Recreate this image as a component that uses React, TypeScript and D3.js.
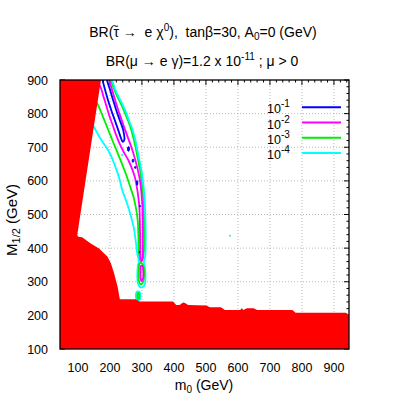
import React from "react";
import * as d3 from "d3";

type P = [number, number];
type B = [number, number, number, number];

const xTickValues = [100, 200, 300, 400, 500, 600, 700, 800, 900];
const yTickValues = [100, 200, 300, 400, 500, 600, 700, 800, 900];
const legendExponents = ["-1", "-2", "-3", "-4"];
const legendColors = ["#0000ff", "#ff00ff", "#00ee00", "#00ffff"];

const excluded: P[] = [[30,910],[173.6,910],[98,440],[100,434],[113,432],[140,414],[166,399],[192,375],[203,355],[213,325],[224,285],[231,248],[281,248],[292,241],[397,241],[407,231],[418,231],[425,236],[430,238],[436,236],[444,231],[502,229],[512,224],[547,224],[559,216],[607,216],[612,221],[617,216],[628,221],[649,221],[660,216],[770,216],[780,208],[937,208],[948,201],[960,201],[960,90],[30,90]];

const blueBand: P[] = [[176,905],[177,900],[185,870],[194,840],[204,811],[215,781],[226,751],[235,726],[240,716],[245,722],[241.5,751],[230.5,781],[219.5,811],[210,840],[200.6,870],[191,900],[192,905]];
const blueBlobs: B[] = [[258,695,3,7],[272,660,2.5,5],[279,640,2,3],[285,594,2,7],[293.5,525,1.8,2.5],[292,388,1.5,1.5]];

const magentaUpper: P[] = [[168,885],[172,876],[178.5,855],[188,826],[197.4,796],[208.5,766],[219.5,736],[232,707],[244.7,683],[257.3,662],[268.3,638],[277.7,611.5],[284,582],[288.7,552],[292,522],[293.5,484],[294.4,424],[295,380],[296.6,365],[299.8,362],[302.3,371],[302.9,424],[302.9,484],[301.3,528],[298.2,567],[293.5,603],[287.2,632],[279.3,662],[270,692],[258.8,722],[247.8,751],[236.8,781],[225.8,811],[216.3,840.5],[206.9,870],[197.4,900],[195.8,905]];
const magentaLower: P[] = [[296.6,347],[295.7,335],[295.7,311],[298.2,302],[302.9,308],[303.8,335],[301.3,347]];

const greenUpper: P[] = [[158,833],[161.2,828.6],[172.2,804.8],[184.8,775],[197.4,745.4],[210,715.6],[222.6,686],[236.8,653],[251,617.5],[263.6,582],[274.6,549],[282.5,513],[287.2,478],[289.4,424],[290.3,380],[292,365],[296.6,360],[301.3,365],[306.7,394],[307.5,439],[306.8,484],[305.2,528],[302.4,567],[298.5,603],[292.9,638],[285.5,674],[278.4,707],[271.3,736],[261.6,766],[249.3,796],[235.9,826],[220.9,855],[209.2,882],[203,900],[201.5,905]];
const greenLower: P[] = [[296.6,356],[292,353],[290.3,335],[290.3,305],[295,293],[301.3,295],[306,311],[306,341],[301.3,353]];
const greenBlobs: B[] = [[288.7,257.6,3.1,8.9]];

const cyanOutline: P[] = [[147,765],[150.2,760],[169.1,727.5],[188,700.7],[203.7,674],[216.3,644],[229,608.5],[238.4,573],[251,540],[263.6,501.5],[274.6,460],[281,418],[285.6,382.5],[290.3,361.7],[287.2,347],[285.6,320],[287.2,296],[293.5,284.4],[303,284.4],[309.2,293],[310.8,320],[309.2,344],[306.1,358.7],[310.2,376.6],[311.7,424],[310.8,484],[308.6,543],[304.5,588],[299.8,623],[292.8,659],[285.6,692],[278.7,724.5],[270,754],[260.4,778],[251,802],[241.5,823],[229,846.5],[216.3,873],[207,900],[205,906]];
const cyanBlobs: B[] = [[288.1,257.6,7.2,13.4],[575,437,2,2],[238.4,677,2,2.5]];

const FONT = "'Liberation Sans', Arial, Helvetica, sans-serif";

export default function App() {
  const L = 60, R = 349, T = 80, Bt = 349;
  const x = d3.scaleLinear().domain([44, 947]).range([L, R]);
  const y = d3.scaleLinear().domain([100, 900]).range([Bt, T]);
  const openLine = d3.line<P>().x(d => x(d[0])).y(d => y(d[1])).curve(d3.curveCatmullRom.alpha(0.5));
  const closedLine = d3.line<P>().x(d => x(d[0])).y(d => y(d[1])).curve(d3.curveCatmullRomClosed.alpha(0.5));
  const poly = d3.line<P>().x(d => x(d[0])).y(d => y(d[1])).curve(d3.curveLinearClosed);

  const xMinor = d3.range(60, 947, 20).filter(v => v % 100 !== 0);
  const yMinor = d3.range(120, 900, 20).filter(v => v % 100 !== 0);

  const sw = 1.8;
  const blob = (b: B, c: string, i: number, filled: boolean) => (
    <ellipse key={c + i} cx={x(b[0])} cy={y(b[1])} rx={x(b[0] + b[2]) - x(b[0])} ry={y(b[1]) - y(b[1] + b[3])}
      fill={filled ? c : "none"} stroke={c} strokeWidth={filled ? 1 : sw} />
  );

  return (
    <svg width={399} height={399} style={{ position: "absolute", left: 0, top: 0, background: "#fff" }} fontFamily={FONT}>
      <defs>
        <clipPath id="plotclip"><rect x={L} y={T} width={R - L} height={Bt - T} /></clipPath>
      </defs>
      <rect x={0} y={0} width={399} height={399} fill="#fff" />
      <g stroke="#a8a8a8" strokeWidth={0.8} strokeDasharray="1,2">
        {xTickValues.map(v => <line key={"gx" + v} x1={x(v)} x2={x(v)} y1={T} y2={Bt} />)}
        {yTickValues.filter(v => v > 100 && v < 900).map(v => <line key={"gy" + v} x1={L} x2={R} y1={y(v)} y2={y(v)} />)}
      </g>
      <g stroke="#000" strokeWidth={1}>
        {xTickValues.map(v => <line key={"tt" + v} x1={x(v)} x2={x(v)} y1={T} y2={T + 5} />)}
        {xTickValues.map(v => <line key={"tb" + v} x1={x(v)} x2={x(v)} y1={Bt} y2={Bt - 5} />)}
        {xMinor.map(v => <line key={"mt" + v} x1={x(v)} x2={x(v)} y1={T} y2={T + 2.5} />)}
        {xMinor.map(v => <line key={"mb" + v} x1={x(v)} x2={x(v)} y1={Bt} y2={Bt - 2.5} />)}
        {yTickValues.map(v => <line key={"tr" + v} x1={R} x2={R - 5} y1={y(v)} y2={y(v)} />)}
        {yTickValues.map(v => <line key={"tl" + v} x1={L} x2={L + 5} y1={y(v)} y2={y(v)} />)}
        {yMinor.map(v => <line key={"mr" + v} x1={R} x2={R - 2.5} y1={y(v)} y2={y(v)} />)}
        {yMinor.map(v => <line key={"ml" + v} x1={L} x2={L + 2.5} y1={y(v)} y2={y(v)} />)}
      </g>
      <g clipPath="url(#plotclip)" strokeLinejoin="round">
        <path d={openLine(greenUpper) || ""} fill="none" stroke={legendColors[2]} strokeWidth={sw} />
        <path d={openLine(cyanOutline) || ""} fill="none" stroke={legendColors[3]} strokeWidth={sw} />
        {cyanBlobs.map((b, i) => blob(b, legendColors[3], i, i > 0))}
        <path d={closedLine(greenLower) || ""} fill="none" stroke={legendColors[2]} strokeWidth={sw} />
        {greenBlobs.map((b, i) => blob(b, legendColors[2], i, false))}
        <path d={openLine(magentaUpper) || ""} fill="none" stroke={legendColors[1]} strokeWidth={sw} />
        <path d={closedLine(magentaLower) || ""} fill="none" stroke={legendColors[1]} strokeWidth={sw} />
        <path d={openLine(blueBand) || ""} fill="none" stroke={legendColors[0]} strokeWidth={sw} />
        {blueBlobs.map((b, i) => blob(b, legendColors[0], i, true))}
        <path d={poly(excluded) || ""} fill="#ff0000" stroke="none" />
      </g>
      <rect x={L} y={T} width={R - L} height={Bt - T} fill="none" stroke="#000" strokeWidth={1.3} />
      <g fontSize={12.5} fill="#000">
        {xTickValues.map(v => <text key={"lx" + v} x={x(v)} y={372} textAnchor="middle">{v}</text>)}
        {yTickValues.map(v => <text key={"ly" + v} x={48} y={y(v) + 4.5} textAnchor="end">{v}</text>)}
      </g>
      <text x={204} y={390} fontSize={14} textAnchor="middle">m<tspan dy={3} fontSize={10}>0</tspan><tspan dy={-3}> (GeV)</tspan></text>
      <text transform="translate(17,220) rotate(-90)" fontSize={15} textAnchor="middle">M<tspan dy={3} fontSize={11}>1/2</tspan><tspan dy={-3}> (GeV)</tspan></text>
      <text x={203} y={37} fontSize={14} textAnchor="middle" style={{ whiteSpace: "pre" }}>BR(τ<tspan dx={-7} dy={-7} fontSize={11}>~</tspan><tspan dx={0.6} dy={7}>{" →  e χ"}</tspan><tspan dy={-6} fontSize={10}>0</tspan><tspan dy={6}>{"),  tanβ=30, A"}</tspan><tspan dy={3} fontSize={10}>0</tspan><tspan dy={-3}>=0 (GeV)</tspan></text>
      <text x={202} y={66} fontSize={14} textAnchor="middle" style={{ whiteSpace: "pre" }}>BR(μ → e γ)=1.2 x 10<tspan dy={-6} fontSize={10}>-11</tspan><tspan dy={6}> ; μ &gt; 0</tspan></text>
      {legendExponents.map((e, i) => {
        const ly = 107.3 + i * 15.2;
        return (
          <g key={"lg" + i}>
            <text x={267} y={ly + 6} fontSize={12.5}>10<tspan dy={-6} fontSize={10}>{e}</tspan></text>
            <line x1={302} x2={341} y1={ly} y2={ly} stroke={legendColors[i]} strokeWidth={2} />
          </g>
        );
      })}
    </svg>
  );
}
